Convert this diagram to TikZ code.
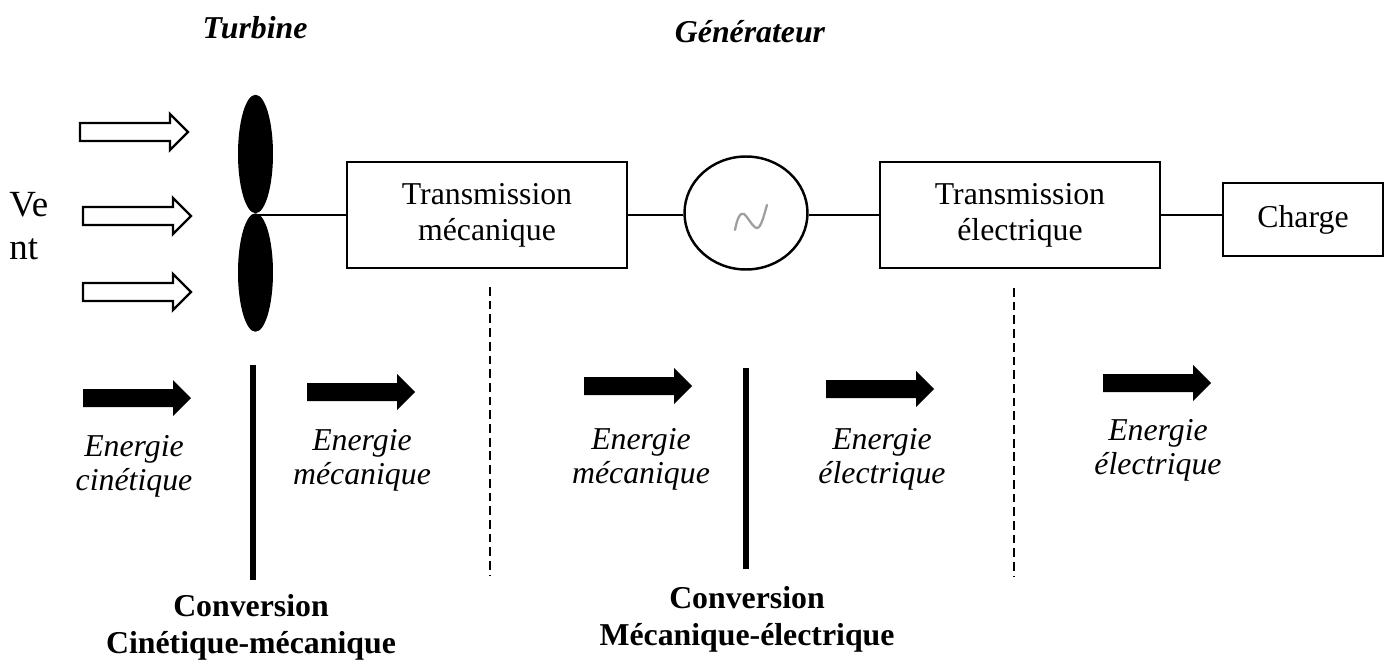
\documentclass[tikz,border=0pt]{standalone}
\usepackage{fontspec}
\setmainfont{Liberation Serif}
\usepackage{tikz}
\usetikzlibrary{shapes.geometric}
\tikzset{
  bigarrow/.pic={
    \path[pic actions] (0,-9) -- (90,-9) -- (90,-18) -- (108,0)
      -- (90,18) -- (90,9) -- (0,9) -- cycle;
  },
}

\begin{document}
\begin{tikzpicture}[
  x=0.02cm,y=-0.02cm,
  every node/.style={font=\fontsize{18.1}{20.5}\selectfont},
  block/.style={draw,line width=1.4pt,align=center,inner sep=0pt,
    minimum width=5.6cm,minimum height=2.12cm},
  blade/.style={ellipse,fill=black,inner sep=0pt,
    minimum width=0.7cm,minimum height=2.37cm},
  wind/.style={draw,fill=white,line width=1.4pt},
  flux/.style={fill=black},
  energy/.style={align=center,font=\fontsize{18.1}{19.5}\selectfont\itshape},
  conv/.style={align=center,font=\fontsize{18.1}{21}\selectfont\bfseries},
  title/.style={font=\fontsize{18.1}{20.5}\selectfont\bfseries\itshape},
  link/.style={line width=0.75pt},
  border/.style={line width=3.5pt},
  limit/.style={line width=0.7pt,dash pattern=on 5pt off 2.8pt},
]
  \useasboundingbox (0,0) rectangle (1390,666);

  % titles
  \node[title] (tturb) at (255,28) {Turbine};
  \node[title] (tgen) at (750,32) {Générateur};

  % wind
  \node[anchor=west,inner sep=0pt,align=left,
    font=\fontsize{21}{24.4}\selectfont] (vent) at (9,226) {Ve\\nt};
  \pic[wind] at (80,132) {bigarrow};
  \pic[wind] at (83,216) {bigarrow};
  \pic[wind] at (83,292) {bigarrow};

  % turbine
  \node[blade] (bup) at (255.5,154) {};
  \node[blade] (bdown) at (255.5,272.5) {};
  \coordinate (hub) at (255.5,215);

  % chain
  \node[block] (tm) at (487,215) {Transmission\\mécanique};
  \node[ellipse,draw,line width=1.4pt,minimum width=2.46cm,
    minimum height=2.26cm] (gen) at (746,213) {};
  \draw[gray!75,line width=1.3pt,line cap=round]
    (735,230) .. controls (737,219) and (740,212) .. (744,214)
    .. controls (748,217) and (753,228) .. (757,228)
    .. controls (761,228) and (764,215) .. (767,205);
  \node[block] (te) at (1020,215) {Transmission\\électrique};
  \node[draw,line width=1.4pt,minimum width=3.2cm,minimum height=1.46cm,
    inner sep=0pt] (ch) at (1303,219.5) {Charge};

  \draw[link] (hub) -- (tm.west);
  \draw[link] (tm.east) -- (gen.west |- tm.east);
  \draw[link] (gen.east |- te.west) -- (te.west);
  \draw[link] (te.east) -- (te.east -| ch.west);

  % limits
  \draw[border] (253,365) -- (253,580);
  \draw[border] (746,368) -- (746,569);
  \draw[limit] (490,287) -- (490,575);
  \draw[limit] (1014,288) -- (1014,577);

  % energy flow
  \pic[flux] at (83,398) {bigarrow};
  \pic[flux] at (307,392) {bigarrow};
  \pic[flux] at (584,386) {bigarrow};
  \pic[flux] at (826,389) {bigarrow};
  \pic[flux] at (1103,383) {bigarrow};

  \node[energy] (ecin) at (134,466) {Energie\\cinétique};
  \node[energy] (emec1) at (362,460) {Energie\\mécanique};
  \node[energy] (emec2) at (641,459) {Energie\\mécanique};
  \node[energy] (eel1) at (882,459) {Energie\\électrique};
  \node[energy] (eel2) at (1158,450) {Energie\\électrique};

  % conversions
  \node[conv] (cv1) at (251,627) {Conversion\\Cinétique-mécanique};
  \node[conv] (cv2) at (747,619) {Conversion\\Mécanique-électrique};
\end{tikzpicture}
\end{document}
